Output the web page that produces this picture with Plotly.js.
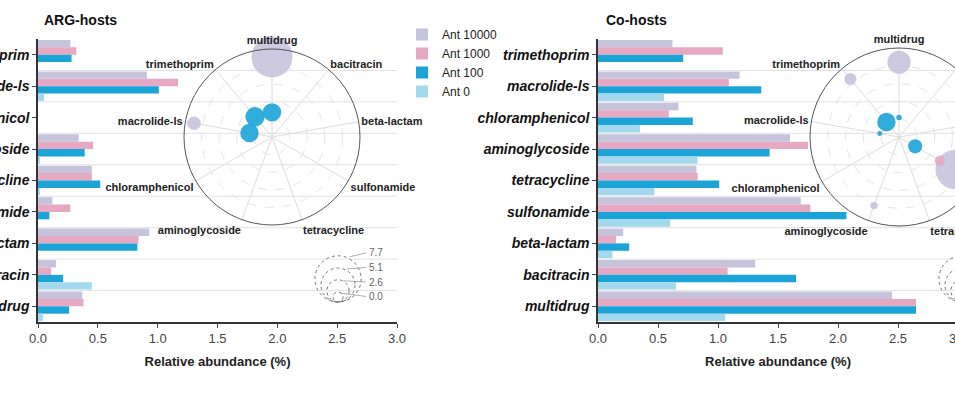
<!DOCTYPE html>
<html>
<head>
<meta charset="utf-8">
<script src="https://cdn.plot.ly/plotly-3.0.1.min.js"></script>
<style>body{margin:0;overflow:hidden;background:#fff}</style>
</head>
<body>
<div id="graph"></div>
<script>
const genes = ["trimethoprim", "macrolide-ls", "chloramphenicol", "aminoglycoside",
    "tetracycline", "sulfonamide", "beta-lactam", "bacitracin", "multidrug"];
const groups = ["Ant 10000", "Ant 1000", "Ant 100", "Ant 0"];
const colors = ["#c6c3dd", "#e7a8c4", "#1ba4d8", "#a3d9ee"];

// ARG-hosts, relative abundance (%)
const argAnt10000 = [0.27, 0.91, 0, 0.34, 0.45, 0.12, 0.93, 0.15, 0.37];
const argAnt1000 = [0.32, 1.17, 0, 0.46, 0.45, 0.27, 0.84, 0.11, 0.38];
const argAnt100 = [0.28, 1.01, 0, 0.39, 0.52, 0.095, 0.83, 0.21, 0.26];
const argAnt0 = [0.0, 0.05, 0, 0.01, 0.01, 0.0, 0.0, 0.45, 0.04];

// Co-hosts
const coAnt10000 = [0.62, 1.18, 0.67, 1.6, 0.82, 1.69, 0.21, 1.31, 2.45];
const coAnt1000 = [1.04, 1.09, 0.59, 1.75, 0.83, 1.77, 0.15, 1.08, 2.65];
const coAnt100 = [0.71, 1.36, 0.79, 1.43, 1.01, 2.07, 0.26, 1.65, 2.65];
const coAnt0 = [0.0, 0.55, 0.35, 0.83, 0.47, 0.6, 0.12, 0.65, 1.06];

// polar insets: bubble [category, radius, size value, group index]
const argBubbles = [["multidrug", 0.91, 7.7, 0], ["macrolide-ls", 0.9, 2.0, 0],
    ["trimethoprim", 0.3, 3.2, 2], ["multidrug", 0.28, 3.0, 2], ["macrolide-ls", 0.26, 3.0, 2]];
const coBubbles = [["multidrug", 0.84, 4.0, 0], ["trimethoprim", 0.85, 1.7, 0],
    ["trimethoprim", 0.22, 3.0, 2], ["multidrug", 0.22, 0.3, 2], ["macrolide-ls", 0.22, 0.2, 2],
    ["sulfonamide", 0.21, 2.1, 2], ["sulfonamide", 0.53, 1.3, 1], ["sulfonamide", 0.73, 7.4, 0],
    ["aminoglycoside", 0.82, 0.7, 0]];
const sizeTicks = [7.7, 5.1, 2.6, 0.0];
const polarOrder = ["multidrug", "bacitracin", "beta-lactam", "sulfonamide", "tetracycline",
    "aminoglycoside", "chloramphenicol", "macrolide-ls", "trimethoprim"];

const W = 1100, H = 406;
const px = (a, b) => [a / W, b / W];
const py = (a, b) => [1 - b / H, 1 - a / H];
const font = "Liberation Sans, Arial, sans-serif";

const data = [];
const argSets = [argAnt10000, argAnt1000, argAnt100, argAnt0];
const coSets = [coAnt10000, coAnt1000, coAnt100, coAnt0];
groups.forEach((g, i) => {
    data.push({type: "bar", orientation: "h", y: genes, x: argSets[i], name: g,
        marker: {color: colors[i]}, xaxis: "x", yaxis: "y", legendgroup: g});
    data.push({type: "bar", orientation: "h", y: genes, x: coSets[i], name: g,
        marker: {color: colors[i]}, xaxis: "x2", yaxis: "y2", showlegend: false, legendgroup: g});
});

function bubbles(list, sub) {
    groups.forEach((g, gi) => {
        const pts = list.filter(b => b[3] === gi);
        if (!pts.length) return;
        data.push({type: "scatterpolar", subplot: sub, mode: "markers", showlegend: false,
            theta: pts.map(b => b[0]), r: pts.map(b => b[1]),
            marker: {size: pts.map(b => 4 + b[2] * 4.8), color: colors[gi], opacity: 0.9,
                line: {width: 0}}});
    });
}
bubbles(argBubbles, "polar");
bubbles(coBubbles, "polar2");

const polarStyle = (dx, dy) => ({
    domain: {x: px(dx[0], dx[1]), y: py(dy[0], dy[1])},
    bgcolor: "rgba(0,0,0,0)",
    radialaxis: {range: [0, 1], showticklabels: false, ticks: "", showline: false,
        gridcolor: "#e4e4e4", griddash: "dash"},
    angularaxis: {type: "category", categoryarray: polarOrder, direction: "clockwise",
        rotation: 90, linecolor: "#555", gridcolor: "#dcdcdc",
        tickfont: {size: 11, family: font, color: "#222", weight: "bold"}, ticks: ""}
});

const catAxis = (dom) => ({
    domain: py(dom[0], dom[1]), autorange: "reversed", showline: true, linecolor: "#333",
    linewidth: 1.5, ticks: "outside", ticklen: 4,
    tickfont: {size: 14, family: font, color: "#111", weight: "bold", style: "italic"}
});
const valAxis = (dom) => ({
    domain: px(dom[0], dom[1]), range: [0, 3], dtick: 0.5, tickformat: ".1f",
    showline: true, linecolor: "#333", linewidth: 1.5, ticks: "outside", ticklen: 4,
    showgrid: false, zeroline: false,
    tickfont: {size: 13, family: font, color: "#444"},
    title: {text: "Relative abundance (%)", font: {size: 13, family: font, weight: "bold", color: "#222"},
        standoff: 12}
});

const shapes = [];
for (let i = 0; i < genes.length - 1; i++) {
    shapes.push({type: "line", xref: "x", yref: "y", x0: 0, x1: 3, y0: i + 0.5, y1: i + 0.5,
        line: {color: "#e2e2e2", width: 1}, layer: "below"});
    shapes.push({type: "line", xref: "x2", yref: "y2", x0: 0, x1: 3, y0: i + 0.5, y1: i + 0.5,
        line: {color: "#e2e2e2", width: 1}, layer: "below"});
}
const annotations = [
    {text: "ARG-hosts", x: 42 / W, y: 1 - 20 / H, xref: "paper", yref: "paper", showarrow: false,
        xanchor: "left", yanchor: "middle", font: {size: 14, family: font, weight: "bold", color: "#111"}},
    {text: "Co-hosts", x: 604 / W, y: 1 - 20 / H, xref: "paper", yref: "paper", showarrow: false,
        xanchor: "left", yanchor: "middle", font: {size: 14, family: font, weight: "bold", color: "#111"}}
];
// bubble size key
[338, 962].forEach(cx => {
    const bottom = 302;
    sizeTicks.forEach((v, k) => {
        const r = 5 + v * 2.35;
        shapes.push({type: "circle", xref: "paper", yref: "paper",
            x0: (cx - r) / W, x1: (cx + r) / W, y0: 1 - bottom / H, y1: 1 - (bottom - 2 * r) / H,
            line: {color: "#555", width: 0.8, dash: "dot"}});
        const ly = 253 + k * 14.5;
        shapes.push({type: "line", xref: "paper", yref: "paper", x0: (cx + r * 0.5) / W, x1: (cx + 28) / W,
            y0: 1 - (bottom - 2 * r + 1) / H, y1: 1 - ly / H, line: {color: "#777", width: 0.6}});
        annotations.push({text: v.toFixed(1), x: (cx + 29) / W, y: 1 - ly / H, xref: "paper",
            yref: "paper", showarrow: false, xanchor: "left", yanchor: "middle",
            font: {size: 10, family: font, color: "#666"}});
    });
});

const layout = {
    width: W, height: H, margin: {l: 0, r: 0, t: 0, b: 0},
    paper_bgcolor: "#fff", plot_bgcolor: "rgba(0,0,0,0)",
    barmode: "group", bargap: 0.06, bargroupgap: 0,
    font: {family: font},
    xaxis: valAxis([38, 397]), yaxis: catAxis([39, 322]),
    xaxis2: Object.assign(valAxis([598, 958]), {anchor: "y2"}),
    yaxis2: Object.assign(catAxis([39, 322]), {anchor: "x2"}),
    polar: polarStyle([184, 360], [49, 225]),
    polar2: polarStyle([810, 988], [48, 226]),
    legend: {x: 402 / W, y: 1 - 20 / H, xanchor: "left", yanchor: "top", traceorder: "normal",
        font: {size: 12, family: font, color: "#222"}, itemwidth: 30, tracegroupgap: 0,
        bgcolor: "rgba(0,0,0,0)"},
    shapes: shapes, annotations: annotations
};
Plotly.newPlot("graph", data, layout, {displayModeBar: false});
</script>
</body>
</html>
